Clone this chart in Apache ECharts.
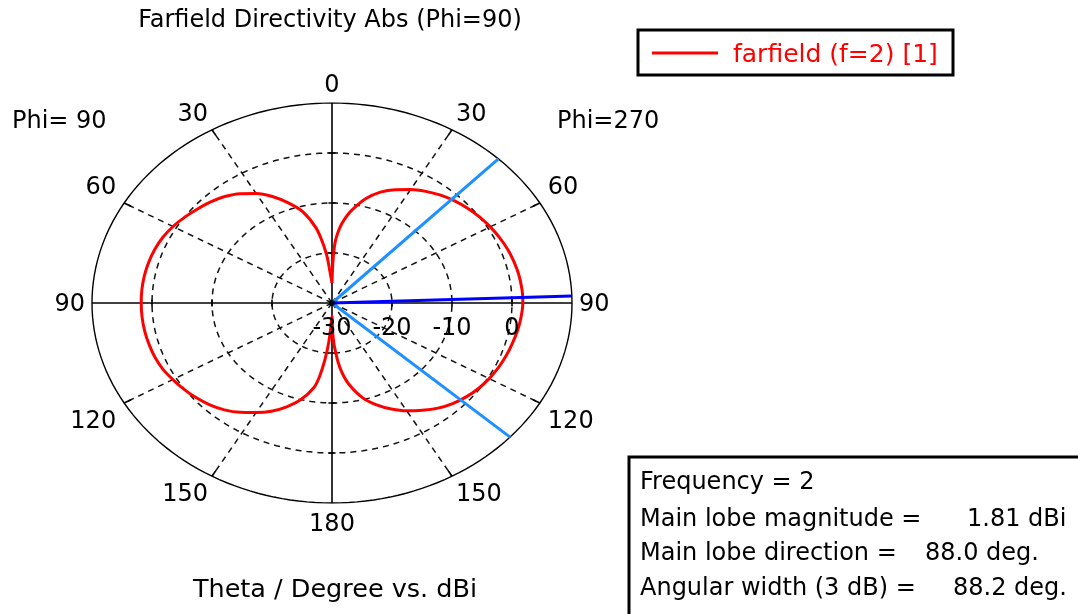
<!DOCTYPE html>
<html>
<head>
<meta charset="utf-8">
<title>Farfield Directivity Abs (Phi=90)</title>
<script src="https://cdn.jsdelivr.net/npm/echarts@6/dist/echarts.min.js"></script>
<style>
  html, body { margin: 0; padding: 0; background: #ffffff; }
  #chart { width: 1078px; height: 614px; }
</style>
</head>
<body>
<div id="chart"></div>
<script>
// Cut Phi = 270 (right half of the plot): theta in degrees, directivity in dBi
const thetaPhi270 = [0, 1, 2, 3, 5, 7, 10, 15, 20, 25, 30, 35, 40, 45, 50, 55, 60, 65, 70, 75, 80, 85, 88, 90,
  95, 100, 105, 110, 115, 120, 125, 130, 135, 140, 145, 150, 155, 160, 165, 170, 173, 175, 177, 178, 179, 180];
const dbiPhi270 = [-26.0, -22.0, -18.8, -17.0, -14.8, -13.2, -11.2, -8.4, -6.4, -5.0, -3.8, -2.75, -1.85, -1.1, -0.5, 0.0, 0.45, 0.85, 1.2, 1.45, 1.65, 1.78, 1.81, 1.8,
  1.64, 1.42, 1.12, 0.88, 0.6, 0.24, -0.2, -0.8, -1.55, -2.55, -3.8, -5.1, -6.6, -8.3, -10.4, -13.4, -15.8, -18.0, -20.8, -22.3, -24.5, -27.4];

// Cut Phi = 90 (left half of the plot)
const thetaPhi90 = [0, 2, 4, 5, 7, 10, 15, 20, 25, 30, 35, 40, 45, 50, 55, 60, 65, 70, 75, 80, 85, 90,
  95, 100, 105, 110, 115, 120, 125, 130, 135, 140, 145, 150, 155, 160, 165, 170, 172, 174, 176, 178, 180];
const dbiPhi90 = [-26.0, -24.8, -22.5, -20.8, -18.2, -14.8, -11.1, -8.7, -6.5, -4.7, -3.3, -2.2, -1.4, -0.75, -0.05, 0.6, 1.1, 1.42, 1.62, 1.74, 1.8, 1.8,
  1.78, 1.72, 1.6, 1.45, 1.15, 0.62, 0.1, -0.5, -1.2, -2.1, -3.3, -4.7, -6.1, -7.9, -10.0, -12.9, -15.2, -18.5, -22.0, -25.5, -27.4];

// Radial scale (dBi) and angular tick labels (theta, degrees)
const radialTicks = [-30, -20, -10, 0];
const radialMax = 10;
const angleTicks = [0, 30, 60, 90, 120, 150, 180];

// Main lobe summary
const frequency = 2;
const mainLobeMagnitude = 1.81;
const mainLobeDirection = 88.0;
const angularWidth3dB = 88.2;

const seriesName = 'farfield (f=2) [1]';

// ---------------------------------------------------------------------------
const radialMin = radialTicks[0];
const FONT = '"DejaVu Sans", Verdana, sans-serif';
const DEG = Math.PI / 180;

// polar (theta from the top, side = +1 right / -1 left) -> cartesian value axes
function toXY(thetaDeg, db, side) {
  const r = Math.max(db - radialMin, 0);
  return [side * r * Math.sin(thetaDeg * DEG), r * Math.cos(thetaDeg * DEG)];
}

function ring(db) {
  const pts = [];
  for (let a = 0; a <= 360; a += 2) pts.push(toXY(a, db, 1));
  return pts;
}

// closed pattern: right half top -> bottom, then left half bottom -> top
const patternPts = thetaPhi270.map((t, i) => toXY(t, dbiPhi270[i], 1))
  .concat(thetaPhi90.map((t, i) => toXY(t, dbiPhi90[i], -1)).reverse());

const span = radialMax - radialMin;
const series = [];
const DASH = { color: '#111', width: 1.5, type: [6, 5], opacity: 1 };

// dashed rings at the inner radial ticks, solid outer ring
radialTicks.slice(1).forEach(db => {
  series.push({
    type: 'line', data: ring(db), showSymbol: false, silent: true, z: 1, lineStyle: DASH
  });
});
series.push({
  type: 'line', data: ring(radialMax), showSymbol: false, silent: true, z: 1,
  lineStyle: { color: '#000', width: 1.4 }
});

// dashed spokes every 30 degrees, short solid ticks on the outer ring
const spokes = [];
const outerTicks = [];
angleTicks.forEach(a => {
  if (a % 90 === 0) return;
  [1, -1].forEach(s => {
    spokes.push({ coords: [[0, 0], toXY(a, radialMax, s)] });
    outerTicks.push({ coords: [toXY(a, radialMax - 1.3, s), toXY(a, radialMax, s)] });
  });
});
series.push({
  type: 'lines', coordinateSystem: 'cartesian2d', data: spokes, silent: true, z: 1, lineStyle: DASH
});
series.push({
  type: 'lines', coordinateSystem: 'cartesian2d', data: outerTicks, silent: true, z: 2,
  lineStyle: { color: '#000', width: 1.6, opacity: 1 }
});

// solid crosshair axes with small ticks at each ring
const axisSegs = [
  { coords: [toXY(0, radialMax, 1), toXY(180, radialMax, 1)] },
  { coords: [toXY(90, radialMax, -1), toXY(90, radialMax, 1)] }
];
radialTicks.slice(1).forEach(db => {
  const r = db - radialMin;
  [1, -1].forEach(s => {
    axisSegs.push({ coords: [[s * r, -0.7], [s * r, 0.7]] });
    axisSegs.push({ coords: [[-0.6, s * r], [0.6, s * r]] });
  });
});
series.push({
  type: 'lines', coordinateSystem: 'cartesian2d', data: axisSegs, silent: true, z: 2,
  lineStyle: { color: '#000', width: 1.6, opacity: 1 }
});

// directivity pattern
series.push({
  name: seriesName, type: 'line', data: patternPts, showSymbol: false, symbol: 'none',
  smooth: 0.25, z: 3,
  lineStyle: { color: '#ff0000', width: 3 }
});

// main lobe direction and 3 dB beam edges (Phi = 270 side)
series.push({
  type: 'lines', coordinateSystem: 'cartesian2d', silent: true, z: 4,
  data: [
    { coords: [[0, 0], toXY(mainLobeDirection - angularWidth3dB / 2, radialMax, 1)] },
    { coords: [[0, 0], toXY(mainLobeDirection + angularWidth3dB / 2, radialMax, 1)] }
  ],
  lineStyle: { color: '#1e90ff', width: 3, opacity: 1 }
});
series.push({
  type: 'lines', coordinateSystem: 'cartesian2d', silent: true, z: 4,
  data: [{ coords: [[0, 0], toXY(mainLobeDirection, radialMax, 1)] }],
  lineStyle: { color: '#0000ff', width: 3, opacity: 1 }
});

// centre dot
series.push({
  type: 'scatter', data: [[0, 0]], symbolSize: 6, silent: true, z: 5,
  itemStyle: { color: '#000' }
});

function txt(text, x, y, opts) {
  const o = opts || {};
  const align = o.align || 'left';
  return {
    type: 'text', z: 10, silent: true,
    style: {
      text, x, y, fill: o.fill || '#000', font: (o.size || 24) + 'px ' + FONT,
      align, textAlign: align, verticalAlign: 'middle', textVerticalAlign: 'middle'
    }
  };
}

const staticGraphics = [
  txt('Farfield Directivity Abs (Phi=90)', 330, 21, { align: 'center' }),
  txt('Phi= 90', 12, 122),
  txt('Phi=270', 557, 122),
  txt('Theta / Degree vs. dBi', 335, 590, { align: 'center', size: 25.5 }),
  // legend box
  { type: 'rect', z: 10, silent: true, shape: { x: 638, y: 30, width: 315, height: 45 },
    style: { fill: '#fff', stroke: '#000', lineWidth: 3 } },
  { type: 'line', z: 11, silent: true, shape: { x1: 652, y1: 53, x2: 718, y2: 53 },
    style: { stroke: '#ff0000', lineWidth: 3 } },
  txt(seriesName, 733, 55, { fill: '#ff0000', size: 25 }),
  // main lobe summary box
  { type: 'rect', z: 10, silent: true, shape: { x: 629, y: 457, width: 480, height: 180 },
    style: { fill: '#fff', stroke: '#000', lineWidth: 3 } },
  txt('Frequency = ' + frequency, 640, 483),
  txt('Main lobe magnitude =', 640, 520),
  txt(mainLobeMagnitude.toFixed(2) + ' dBi', 967, 520),
  txt('Main lobe direction =', 640, 554),
  txt(mainLobeDirection.toFixed(1) + ' deg.', 925, 554),
  txt('Angular width (3 dB) =', 640, 589),
  txt(angularWidth3dB.toFixed(1) + ' deg.', 953, 589)
];

const chart = echarts.init(document.getElementById('chart'), null, { renderer: 'canvas' });
chart.setOption({
  animation: false,
  backgroundColor: '#ffffff',
  grid: { left: 92, top: 103, width: 480, height: 400 },
  xAxis: { type: 'value', min: -span, max: span, show: false },
  yAxis: { type: 'value', min: -span, max: span, show: false },
  series
});

// tick labels placed through the axes' own data-to-pixel mapping
function angleLabelOffset(a, s, text) {
  const half = text.length * 0.636 * 24 / 2;
  if (a === 0) return [0, -17];
  if (a === 180) return [0, 22];
  if (a === 90) return [s * (half + 7), 2];
  const sn = Math.sin(a * DEG);
  return [s * (half + 2 + 8 * sn * sn), a < 90 ? -15 : 19];
}
const labelGraphics = [];
angleTicks.forEach(a => {
  const sides = (a === 0 || a === 180) ? [1] : [-1, 1];
  sides.forEach(s => {
    const t = String(a);
    const p = chart.convertToPixel({ gridIndex: 0 }, toXY(a, radialMax, s));
    const off = angleLabelOffset(a, s, t);
    labelGraphics.push(txt(t, p[0] + off[0], p[1] + off[1], { align: 'center' }));
  });
});
radialTicks.forEach(db => {
  const p = chart.convertToPixel({ gridIndex: 0 }, toXY(90, db, 1));
  labelGraphics.push(txt(String(db), p[0], p[1] + 26, { align: 'center' }));
});

chart.setOption({ graphic: staticGraphics.concat(labelGraphics) });
</script>
</body>
</html>
